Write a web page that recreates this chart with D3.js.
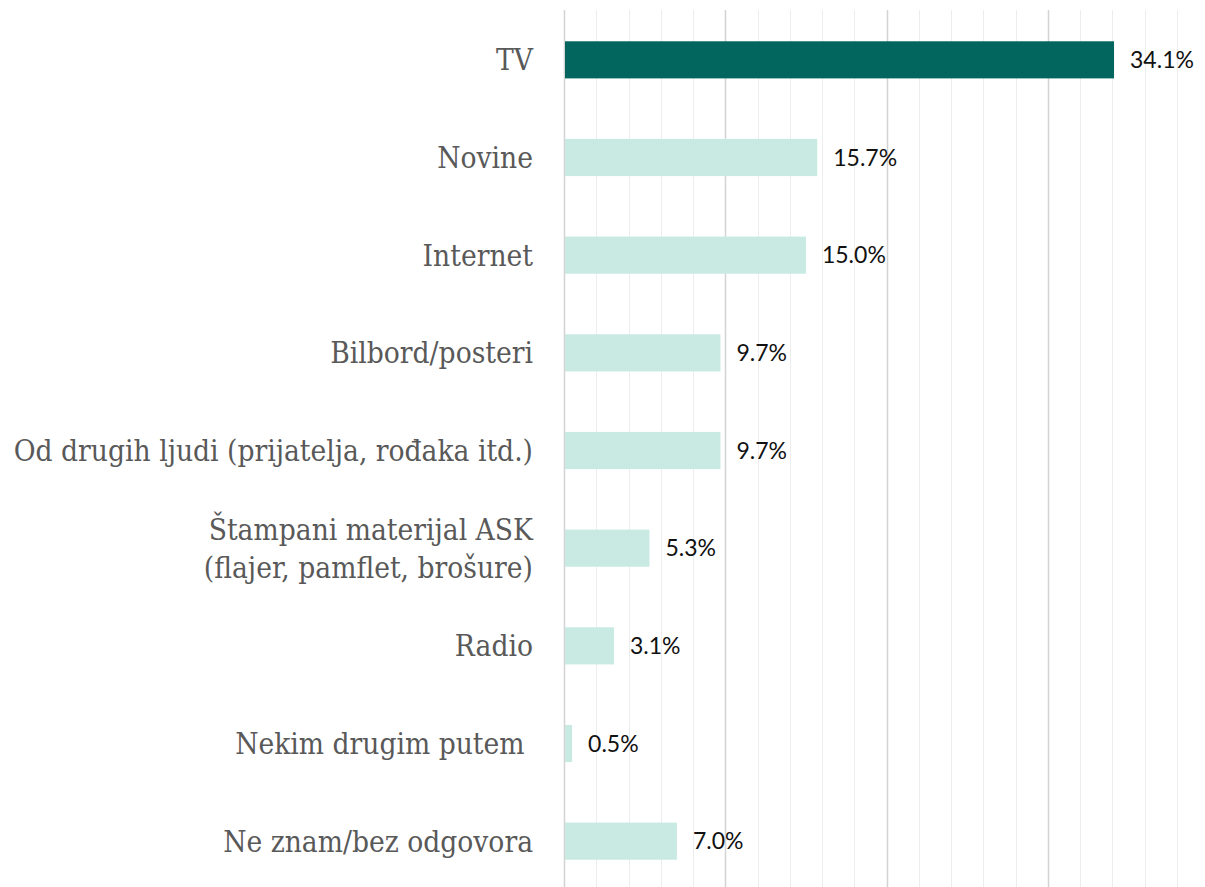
<!DOCTYPE html>
<html>
<head>
<meta charset="utf-8">
<script src="https://cdnjs.cloudflare.com/ajax/libs/d3/7.8.5/d3.min.js"></script>
<style>
  html, body { margin: 0; padding: 0; background: #fff; }
  #chart { width: 1205px; height: 887px; overflow: hidden; }
  .cat { font-family: 'DejaVu Serif Condensed', 'DejaVu Serif', serif; font-stretch: condensed; fill: #595959; white-space: pre; }
  .val { font-family: Lato, 'Open Sans', sans-serif; fill: #111; }
</style>
</head>
<body>
<div id="chart"></div>
<script>
const categories = [
  'TV',
  'Novine',
  'Internet',
  'Bilbord/posteri',
  'Od drugih ljudi (prijatelja, rođaka itd.)',
  'Štampani materijal ASK\n(flajer, pamflet, brošure)',
  'Radio',
  'Nekim drugim putem ',
  'Ne znam/bez odgovora'
];
const values = [34.1, 15.7, 15.0, 9.7, 9.7, 5.3, 3.1, 0.5, 7.0];
const highlight = 'TV';

const width = 1205;
const height = 887;
const margin = { top: 11, left: 564, bottom: -3 };

const svg = d3.select('#chart')
  .append('svg')
  .attr('width', width)
  .attr('height', height);

const x = d3.scaleLinear()
  .domain([0, 40])
  .range([margin.left, margin.left + 40 * 16.13]);

const y = d3.scaleBand()
  .domain(categories)
  .range([margin.top, height - margin.bottom])
  .paddingInner(0.62)
  .paddingOuter(0.31);

// grid: minor every 2%, major every 10%
const grid = svg.append('g');
grid.selectAll('line')
  .data(d3.range(0, 41, 2))
  .join('line')
  .attr('x1', (d) => Math.round(x(d)) + 0.5)
  .attr('x2', (d) => Math.round(x(d)) + 0.5)
  .attr('y1', 10)
  .attr('y2', height)
  .attr('stroke', (d) => (d % 10 === 0 ? '#d3d3d3' : '#ededed'))
  .attr('stroke-width', (d) => (d % 10 === 0 ? 1.5 : 1));

svg.append('g')
  .selectAll('rect')
  .data(values)
  .join('rect')
  .attr('x', x(0) + 1)
  .attr('y', (d, i) => y(categories[i]))
  .attr('width', (d) => x(d) - x(0) - 1)
  .attr('height', y.bandwidth())
  .attr('fill', (d, i) => (categories[i] === highlight ? '#03665e' : '#c8eae3'));

svg.append('g')
  .selectAll('text')
  .data(values)
  .join('text')
  .attr('class', 'val')
  .attr('x', (d) => x(d) + 16)
  .attr('y', (d, i) => y(categories[i]) + y.bandwidth() / 2)
  .attr('dy', '0.36em')
  .style('font-size', '23px')
  .text((d) => `${d.toFixed(1)}%`);

const yAxis = svg.append('g')
  .attr('transform', `translate(${margin.left - 31},0)`)
  .call(d3.axisLeft(y).tickSize(0).tickPadding(0).tickFormat(() => ''));
yAxis.select('.domain').remove();

yAxis.selectAll('.tick text').each(function (d) {
  const lines = d.split('\n');
  const t = d3.select(this)
    .attr('class', 'cat')
    .attr('dy', null)
    .style('font-size', '29.6px')
    .attr('text-anchor', 'end')
    .text(null);
  lines.forEach((line, i) => {
    t.append('tspan')
      .attr('x', 0)
      .attr('dy', i === 0 ? `${0.36 - (lines.length - 1) * 0.64}em` : '1.28em')
      .text(line);
  });
});
</script>
</body>
</html>
